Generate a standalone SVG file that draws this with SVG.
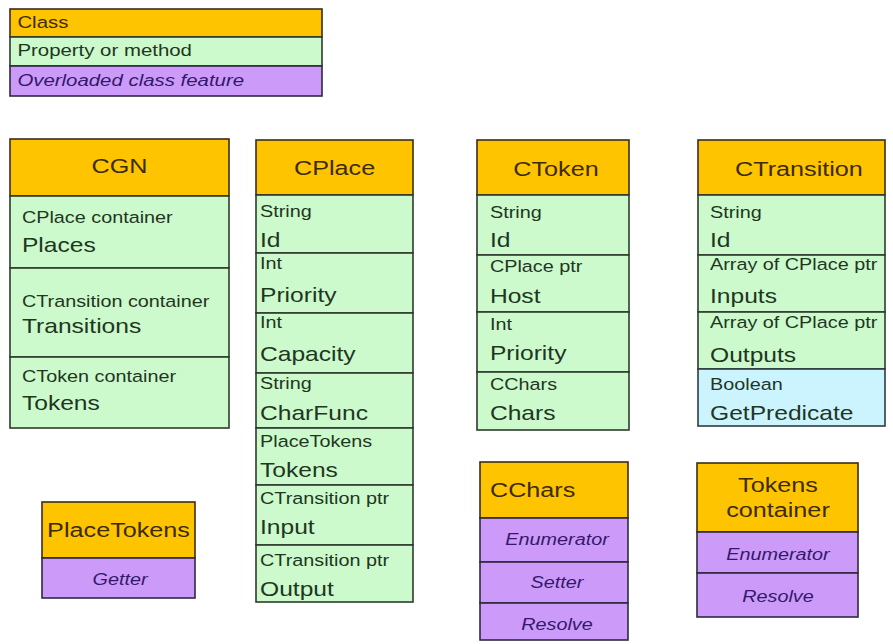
<svg xmlns="http://www.w3.org/2000/svg" width="893" height="644" viewBox="0 0 893 644">
<style>
.hdr{fill:#FFC400;stroke:#3b2c1a;stroke-width:1.6}
.prop{fill:#CCFACC;stroke:#2f3a2f;stroke-width:1.6}
.blue{fill:#CCF4FF;stroke:#2f3a3f;stroke-width:1.6}
.ovl{fill:#CC9BFA;stroke:#2f2a40;stroke-width:1.6}
text{font-family:"Liberation Sans",Arial,sans-serif}
.th{font-size:21px;fill:#3d2b00;text-anchor:middle}
.thl{font-size:21px;fill:#3d2b00}
.ts{font-size:16.5px;fill:#1f361f}
.tb{font-size:20.5px;fill:#1f361f}
.to{font-size:16.5px;fill:#35186a;font-style:italic;text-anchor:middle}
.lg{font-size:17px}
</style>
<rect width="893" height="644" fill="#fff"/>
<g id="legend">
<rect class="hdr" x="10" y="9" width="312" height="28"/>
<rect class="prop" x="10" y="37" width="312" height="29"/>
<rect class="ovl" x="10" y="66" width="312" height="30"/>
<g transform="scale(1.2,1)">
<text class="lg" x="14.5" y="28.5" fill="#3d2b00">Class</text>
<text class="lg" x="14.5" y="56.5" fill="#1f361f">Property or method</text>
<text class="lg" x="14.5" y="86.5" fill="#35186a" font-style="italic">Overloaded class feature</text>
</g>
</g>
<g id="CGN">
<rect class="hdr" x="10" y="139" width="219" height="57"/>
<rect class="prop" x="10" y="196" width="219" height="72"/>
<rect class="prop" x="10" y="268" width="219" height="89"/>
<rect class="prop" x="10" y="357" width="219" height="71"/>
<g transform="scale(1.2,1)">
<text class="th" x="99.6" y="173">CGN</text>
<text class="ts" x="18.3" y="223">CPlace container</text>
<text class="tb" x="18.3" y="252">Places</text>
<text class="ts" x="18.3" y="307">CTransition container</text>
<text class="tb" x="18.3" y="333">Transitions</text>
<text class="ts" x="18.3" y="382">CToken container</text>
<text class="tb" x="18.3" y="410">Tokens</text>
</g>
</g>
<g id="CPlace">
<rect class="hdr" x="256" y="140" width="157" height="55"/>
<rect class="prop" x="256" y="195" width="157" height="58"/>
<rect class="prop" x="256" y="253" width="157" height="60"/>
<rect class="prop" x="256" y="313" width="157" height="60"/>
<rect class="prop" x="256" y="373" width="157" height="55"/>
<rect class="prop" x="256" y="428" width="157" height="57"/>
<rect class="prop" x="256" y="485" width="157" height="60"/>
<rect class="prop" x="256" y="545" width="157" height="57"/>
<g transform="scale(1.2,1)">
<text class="th" x="278.8" y="175">CPlace</text>
<text class="ts" x="216.7" y="217">String</text>
<text class="tb" x="216.7" y="247">Id</text>
<text class="ts" x="216.7" y="269">Int</text>
<text class="tb" x="216.7" y="302">Priority</text>
<text class="ts" x="216.7" y="328">Int</text>
<text class="tb" x="216.7" y="361">Capacity</text>
<text class="ts" x="216.7" y="389">String</text>
<text class="tb" x="216.7" y="420">CharFunc</text>
<text class="ts" x="216.7" y="447">PlaceTokens</text>
<text class="tb" x="216.7" y="477">Tokens</text>
<text class="ts" x="216.7" y="504">CTransition ptr</text>
<text class="tb" x="216.7" y="534">Input</text>
<text class="ts" x="216.7" y="566">CTransition ptr</text>
<text class="tb" x="216.7" y="596">Output</text>
</g>
</g>
<g id="CToken">
<rect class="hdr" x="477" y="140" width="152" height="55"/>
<rect class="prop" x="477" y="195" width="152" height="60"/>
<rect class="prop" x="477" y="255" width="152" height="57"/>
<rect class="prop" x="477" y="312" width="152" height="60"/>
<rect class="prop" x="477" y="372" width="152" height="58"/>
<g transform="scale(1.2,1)">
<text class="th" x="463.3" y="176">CToken</text>
<text class="ts" x="408.3" y="218">String</text>
<text class="tb" x="408.3" y="247">Id</text>
<text class="ts" x="408.3" y="272">CPlace ptr</text>
<text class="tb" x="408.3" y="303">Host</text>
<text class="ts" x="408.3" y="330">Int</text>
<text class="tb" x="408.3" y="360">Priority</text>
<text class="ts" x="408.3" y="390">CChars</text>
<text class="tb" x="408.3" y="420">Chars</text>
</g>
</g>
<g id="CTransition">
<rect class="hdr" x="698" y="140" width="187" height="55"/>
<rect class="prop" x="698" y="195" width="187" height="60"/>
<rect class="prop" x="698" y="255" width="187" height="57"/>
<rect class="prop" x="698" y="312" width="187" height="57"/>
<rect class="blue" x="698" y="369" width="187" height="57"/>
<g transform="scale(1.2,1)">
<text class="th" x="665.8" y="176">CTransition</text>
<text class="ts" x="591.7" y="218">String</text>
<text class="tb" x="591.7" y="247">Id</text>
<text class="ts" x="591.7" y="270">Array of CPlace ptr</text>
<text class="tb" x="591.7" y="303">Inputs</text>
<text class="ts" x="591.7" y="328">Array of CPlace ptr</text>
<text class="tb" x="591.7" y="362">Outputs</text>
<text class="ts" x="591.7" y="390">Boolean</text>
<text class="tb" x="591.7" y="420">GetPredicate</text>
</g>
</g>
<g id="PlaceTokens">
<rect class="hdr" x="42" y="502" width="153" height="56"/>
<rect class="ovl" x="42" y="558" width="153" height="40"/>
<g transform="scale(1.2,1)">
<text class="th" x="98.8" y="537">PlaceTokens</text>
<text class="to" x="100" y="585">Getter</text>
</g>
</g>
<g id="CChars">
<rect class="hdr" x="480" y="462" width="148" height="56"/>
<rect class="ovl" x="480" y="518" width="148" height="44"/>
<rect class="ovl" x="480" y="562" width="148" height="41"/>
<rect class="ovl" x="480" y="603" width="148" height="37"/>
<g transform="scale(1.2,1)">
<text class="thl" x="408.3" y="497">CChars</text>
<text class="to" x="464.2" y="545">Enumerator</text>
<text class="to" x="464.2" y="588">Setter</text>
<text class="to" x="464.2" y="630">Resolve</text>
</g>
</g>
<g id="TokensContainer">
<rect class="hdr" x="697" y="463" width="161" height="69"/>
<rect class="ovl" x="697" y="532" width="161" height="41"/>
<rect class="ovl" x="697" y="573" width="161" height="44"/>
<g transform="scale(1.2,1)">
<text class="th" x="648.3" y="492">Tokens</text>
<text class="th" x="648.3" y="517">container</text>
<text class="to" x="648.3" y="560">Enumerator</text>
<text class="to" x="648.3" y="602">Resolve</text>
</g>
</g>
<g id="connectors"/>
</svg>
